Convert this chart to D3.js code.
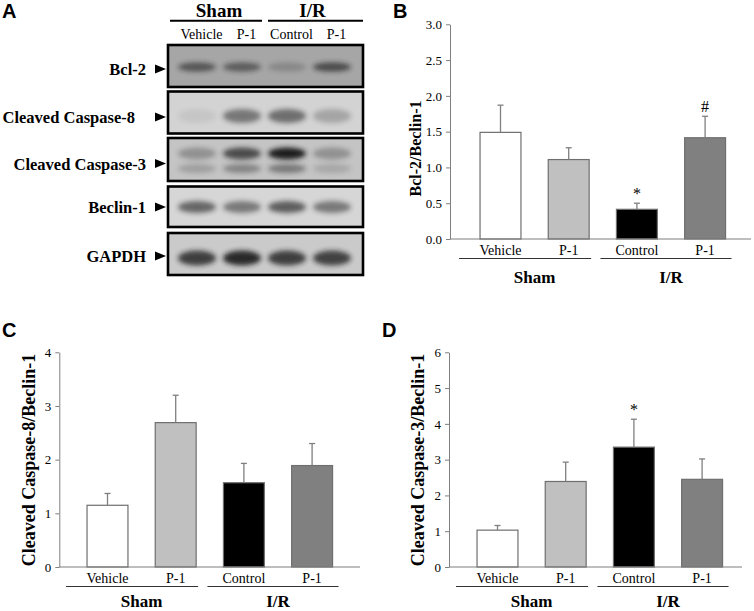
<!DOCTYPE html>
<html>
<head>
<meta charset="utf-8">
<script src="https://cdn.jsdelivr.net/npm/d3@7"></script>
<style>
  body { margin: 0; background: #fff; }
  svg { display: block; }
</style>
</head>
<body>
<div id="chart-area"></div>
<script>
// values
var lanes = ["Vehicle", "P-1", "Control", "P-1"];
var laneGroup = ["Sham", "Sham", "I/R", "I/R"];
var groups = ["Sham", "I/R"];

var bcl2Mean = [1.49, 1.11, 0.415, 1.415];
var bcl2Err = [0.38, 0.165, 0.085, 0.30];
var bcl2Marks = ["", "", "*", "#"];
var bcl2Ticks = [0, 0.5, 1.0, 1.5, 2.0, 2.5, 3.0];

var casp8Mean = [1.15, 2.69, 1.57, 1.89];
var casp8Err = [0.22, 0.51, 0.36, 0.41];
var casp8Marks = ["", "", "", ""];
var casp8Ticks = [0, 1, 2, 3, 4];

var casp3Mean = [1.03, 2.39, 3.35, 2.45];
var casp3Err = [0.13, 0.54, 0.78, 0.57];
var casp3Marks = ["", "", "*", ""];
var casp3Ticks = [0, 1, 2, 3, 4, 5, 6];

// blot rows: band darkness per lane (0 = none, 1 = black)
var blotLabels = ["Bcl-2", "Cleaved Caspase-8", "Cleaved Caspase-3", "Beclin-1", "GAPDH"];
var bcl2Bands = [0.6, 0.55, 0.22, 0.68];
var casp8Bands = [0.07, 0.5, 0.55, 0.25];
var casp3UpperBands = [0.3, 0.72, 1.0, 0.3];
var casp3LowerBands = [0.22, 0.38, 0.45, 0.17];
var beclinBands = [0.6, 0.5, 0.65, 0.5];
var gapdhBands = [0.8, 0.92, 0.8, 0.78];

var barFill = ["#ffffff", "#c0c0c0", "#000000", "#808080"];
var serif = "'Liberation Serif', 'Times New Roman', serif";
var sans = "'Liberation Sans', Arial, sans-serif";

var svg = d3.select("#chart-area").append("svg")
	.attr("width", 754)
	.attr("height", 611);

// ---------- panel letters
[["A", 2, 18], ["B", 393, 18], ["C", 2, 337], ["D", 382, 337]].forEach(function(p){
	svg.append("text")
		.attr("x", p[1]).attr("y", p[2])
		.style("font-family", sans).style("font-weight", "bold").style("font-size", "20px")
		.style("fill", "#000")
		.text(p[0]);
});

// ---------- panel A (blot)
var defs = svg.append("defs");
var blur = defs.append("filter").attr("id", "blur")
	.attr("x", "-50%").attr("y", "-100%").attr("width", "200%").attr("height", "300%");
blur.append("feGaussianBlur").attr("stdDeviation", 2.4);

var blotLeft = 168, blotRight = 363;
var rowBoxes = [[45, 87], [91.5, 133.5], [138, 181], [186.5, 227], [233, 275]];
var rowBg = ["#a6a6a6", "#d3d3d3", "#c4c4c4", "#d6d6d6", "#cacaca"];
var rowArrowY = [69, 117, 163.5, 207, 256];
var rowLabelRight = [146, 135, 146, 146, 146];

var laneX = d3.scalePoint().domain(d3.range(lanes.length)).range([197, 332]);

var bandRows = [
	{ row: 0, y: 67, ry: 4.5, vals: bcl2Bands },
	{ row: 1, y: 116, ry: 7, vals: casp8Bands },
	{ row: 2, y: 153.5, ry: 6, vals: casp3UpperBands },
	{ row: 2, y: 168.5, ry: 4.5, vals: casp3LowerBands },
	{ row: 3, y: 207, ry: 6, vals: beclinBands },
	{ row: 4, y: 258, ry: 7.5, vals: gapdhBands }
];

var blotG = svg.append("g");
blotG.selectAll("rect.bg")
	.data(rowBoxes)
	.enter().append("rect")
		.attr("class", "bg")
		.attr("x", blotLeft).attr("y", function(d){ return d[0]; })
		.attr("width", blotRight - blotLeft)
		.attr("height", function(d){ return d[1] - d[0]; })
		.style("fill", function(d, i){ return rowBg[i]; });

bandRows.forEach(function(r, k){
	var box = rowBoxes[r.row];
	var clipId = "clip" + k;
	defs.append("clipPath").attr("id", clipId)
		.append("rect").attr("x", blotLeft).attr("y", box[0])
		.attr("width", blotRight - blotLeft).attr("height", box[1] - box[0]);
	blotG.append("g").attr("clip-path", "url(#" + clipId + ")")
		.selectAll("ellipse")
		.data(r.vals)
		.enter().append("ellipse")
			.attr("cx", function(d, i){ return laneX(i); })
			.attr("cy", r.y)
			.attr("rx", 19)
			.attr("ry", r.ry)
			.attr("filter", "url(#blur)")
			.style("fill", "#1a1a1a")
			.style("opacity", function(d){ return d; });
});

blotG.selectAll("rect.frame")
	.data(rowBoxes)
	.enter().append("rect")
		.attr("class", "frame")
		.attr("x", blotLeft).attr("y", function(d){ return d[0]; })
		.attr("width", blotRight - blotLeft)
		.attr("height", function(d){ return d[1] - d[0]; })
		.style("fill", "none").style("stroke", "#000").style("stroke-width", 2.6);

blotG.selectAll("path.arrow")
	.data(rowArrowY)
	.enter().append("path")
		.attr("class", "arrow")
		.attr("d", function(d){ return "M155," + (d - 4.5) + "L166," + d + "L155," + (d + 4.5) + "Z"; })
		.style("fill", "#000");

blotG.selectAll("text.rowlab")
	.data(blotLabels)
	.enter().append("text")
		.attr("class", "rowlab")
		.attr("x", function(d, i){ return rowLabelRight[i]; })
		.attr("y", function(d, i){ return rowArrowY[i] + 6; })
		.attr("text-anchor", "end")
		.style("font-family", serif).style("font-weight", "bold").style("font-size", "16.5px")
		.style("fill", "#000")
		.text(function(d){ return d; });

blotG.selectAll("text.lane")
	.data(lanes)
	.enter().append("text")
		.attr("class", "lane")
		.attr("x", function(d, i){ return laneX(i) + 4.5; })
		.attr("y", 39)
		.attr("text-anchor", "middle")
		.style("font-family", serif).style("font-size", "14px")
		.style("fill", "#000")
		.text(function(d){ return d; });

var topGroups = [[170, 262], [268, 363]];
groups.forEach(function(g, i){
	blotG.append("line")
		.attr("x1", topGroups[i][0]).attr("x2", topGroups[i][1])
		.attr("y1", 20.7).attr("y2", 20.7)
		.style("stroke", "#000").style("stroke-width", 2);
	blotG.append("text")
		.attr("x", (topGroups[i][0] + topGroups[i][1]) / 2 + (i == 0 ? 3 : -3))
		.attr("y", 16.5)
		.attr("text-anchor", "middle")
		.style("font-family", serif).style("font-weight", "bold").style("font-size", "19px")
		.style("fill", "#000")
		.text(g);
});

// ---------- bar panels
function drawBars(cfg){
	var g = svg.append("g");

	var x = d3.scaleBand()
		.domain(d3.range(lanes.length))
		.range([cfg.bandStart, cfg.bandStart + 68.2 * lanes.length])
		.paddingInner(0.4)
		.paddingOuter(0.2);

	var y = d3.scaleLinear()
		.domain([0, d3.max(cfg.ticks)])
		.range([cfg.bottom, cfg.top]);

	var yAxis = d3.axisLeft(y)
		.tickValues(cfg.ticks)
		.tickFormat(cfg.format)
		.tickSize(4)
		.tickSizeOuter(0)
		.tickPadding(4);

	var ax = g.append("g")
		.attr("transform", "translate(" + cfg.x0 + ",0)")
		.call(yAxis);
	ax.select(".domain").style("stroke", "#7f7f7f");
	ax.selectAll(".tick line").style("stroke", "#7f7f7f");
	ax.selectAll(".tick text")
		.style("font-family", serif).style("font-size", "13px").style("fill", "#000");

	// bars
	g.selectAll("rect.bar")
		.data(cfg.mean)
		.enter().append("rect")
			.attr("class", "bar")
			.attr("x", function(d, i){ return x(i); })
			.attr("y", function(d){ return y(d); })
			.attr("width", x.bandwidth())
			.attr("height", function(d){ return y(0) - y(d); })
			.style("fill", function(d, i){ return barFill[i]; })
			.style("stroke", "#6f6f6f")
			.style("stroke-width", 1.2);

	// upper error bars
	var eb = g.selectAll("g.err")
		.data(cfg.mean)
		.enter().append("g").attr("class", "err");
	eb.append("line")
		.attr("x1", function(d, i){ return x(i) + x.bandwidth() / 2; })
		.attr("x2", function(d, i){ return x(i) + x.bandwidth() / 2; })
		.attr("y1", function(d){ return y(d); })
		.attr("y2", function(d, i){ return y(d + cfg.err[i]); })
		.style("stroke", "#7f7f7f").style("stroke-width", 1.3);
	eb.append("line")
		.attr("x1", function(d, i){ return x(i) + x.bandwidth() / 2 - 3; })
		.attr("x2", function(d, i){ return x(i) + x.bandwidth() / 2 + 3; })
		.attr("y1", function(d, i){ return y(d + cfg.err[i]); })
		.attr("y2", function(d, i){ return y(d + cfg.err[i]); })
		.style("stroke", "#7f7f7f").style("stroke-width", 1.3);

	// significance marks
	g.selectAll("text.mark")
		.data(cfg.marks)
		.enter().append("text")
			.attr("class", "mark")
			.attr("x", function(d, i){ return x(i) + x.bandwidth() / 2; })
			.attr("y", function(d, i){ return y(cfg.mean[i] + cfg.err[i]) - 4; })
			.attr("text-anchor", "middle")
			.style("font-family", serif).style("font-size", "16px")
			.style("fill", "#000")
			.text(function(d){ return d; });

	// x axis line
	g.append("line")
		.attr("x1", cfg.x0).attr("x2", cfg.xEnd)
		.attr("y1", y(0)).attr("y2", y(0))
		.style("stroke", "#7f7f7f").style("stroke-width", 1.2);

	// lane labels
	g.selectAll("text.lane")
		.data(lanes)
		.enter().append("text")
			.attr("class", "lane")
			.attr("x", function(d, i){ return x(i) + x.bandwidth() / 2; })
			.attr("y", y(0) + 15.5)
			.attr("text-anchor", "middle")
			.style("font-family", serif).style("font-size", "14px")
			.style("fill", "#000")
			.text(function(d){ return d; });

	// group lines and labels
	groups.forEach(function(gr, gi){
		var idx = d3.range(lanes.length).filter(function(i){ return laneGroup[i] == gr; });
		var first = idx[0], last = idx[idx.length - 1];
		var x1 = x(first) - (gi == 0 ? 21 : 16);
		var x2 = x(last) + x.bandwidth() + (gi == 0 ? 2 : 6);
		g.append("line")
			.attr("x1", x1).attr("x2", x2)
			.attr("y1", y(0) + 19.5).attr("y2", y(0) + 19.5)
			.style("stroke", "#333").style("stroke-width", 1);
		g.append("text")
			.attr("x", (x(first) + x(last) + x.bandwidth()) / 2)
			.attr("y", Math.min(y(0) + 44, 607))
			.attr("text-anchor", "middle")
			.style("font-family", serif).style("font-weight", "bold").style("font-size", "17px")
			.style("fill", "#000")
			.text(gr);
	});

	// y title
	g.append("text")
		.attr("transform", "translate(" + cfg.titleX + "," + cfg.titleY + ") rotate(-90)")
		.attr("dy", "0.35em")
		.attr("text-anchor", "middle")
		.style("font-family", serif).style("font-weight", "bold").style("font-size", cfg.titleSize + "px")
		.style("fill", "#000")
		.text(cfg.title);
}

drawBars({
	mean: bcl2Mean, err: bcl2Err, marks: bcl2Marks, ticks: bcl2Ticks, format: d3.format(".1f"),
	x0: 450, xEnd: 751, bandStart: 466.4, top: 24.3, bottom: 239,
	title: "Bcl-2/Beclin-1", titleX: 415, titleY: 148.5, titleSize: 16
});

drawBars({
	mean: casp8Mean, err: casp8Err, marks: casp8Marks, ticks: casp8Ticks, format: d3.format("d"),
	x0: 59.3, xEnd: 360, bandStart: 73.4, top: 352.3, bottom: 567,
	title: "Cleaved Caspase-8/Beclin-1", titleX: 28.3, titleY: 460, titleSize: 18
});

drawBars({
	mean: casp3Mean, err: casp3Err, marks: casp3Marks, ticks: casp3Ticks, format: d3.format("d"),
	x0: 449, xEnd: 742, bandStart: 463.4, top: 352.3, bottom: 567,
	title: "Cleaved Caspase-3/Beclin-1", titleX: 418, titleY: 460, titleSize: 18
});
</script>
</body>
</html>
